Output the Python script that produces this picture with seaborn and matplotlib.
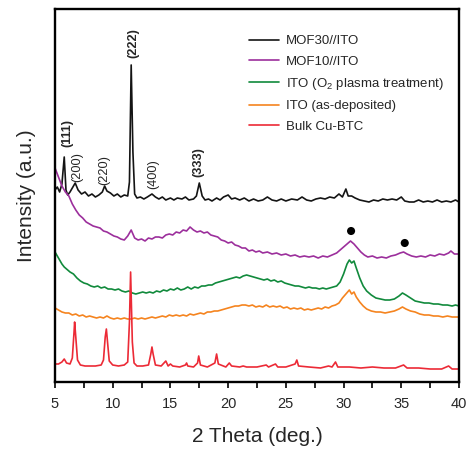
import matplotlib
matplotlib.use("Agg")
import matplotlib.pyplot as plt
from matplotlib.ticker import MultipleLocator
import seaborn as sns

# XRD patterns, intensities in arbitrary (offset) units
mof30_x = [5.0, 5.2, 5.4, 5.6, 5.8, 5.95, 6.1, 6.3, 6.6, 6.75, 7.0, 7.3, 7.6, 7.9, 8.2, 8.5, 8.8, 9.1, 9.3, 9.5,
           9.8, 10.1, 10.4, 10.7, 11.0, 11.3, 11.45, 11.6, 11.75, 11.9, 12.1, 12.4, 12.7, 13.0, 13.4, 13.7, 14.0,
           14.3, 14.6, 15.0, 15.3, 15.6, 16.0, 16.3, 16.6, 17.0, 17.25, 17.5, 17.75, 18.0, 18.3, 18.6, 19.0, 19.3,
           19.6, 20.0, 20.3, 20.6, 21.0, 21.4, 21.8, 22.2, 22.6, 23.0, 23.4, 23.8, 24.2, 24.6, 25.0, 25.5, 26.0,
           26.4, 26.8, 27.2, 27.6, 28.0, 28.4, 28.8, 29.2, 29.6, 29.9, 30.2, 30.4, 30.7, 31.0, 31.4, 31.8, 32.2,
           32.6, 33.0, 33.4, 33.8, 34.2, 34.6, 35.0, 35.3, 35.7, 36.1, 36.5, 36.9, 37.3, 37.7, 38.1, 38.5, 38.9,
           39.3, 39.7, 40.0]
mof30_y = [192, 195, 190, 198, 225, 192, 187, 190, 196, 199, 192, 188, 190, 186, 188, 185, 187, 190, 196, 191,
           189, 186, 188, 185, 187, 186, 200, 317, 230, 188, 184, 185, 183, 185, 188, 185, 183,
           185, 182, 184, 182, 184, 183, 185, 182, 183, 186, 199, 186, 182, 183, 181, 184, 182,
           185, 187, 183, 184, 182, 184, 181, 183, 181, 182, 185, 182, 181, 183, 181, 183, 182,
           185, 182, 181, 183, 184, 183, 185, 184, 188, 185, 193, 186, 186, 184, 182, 181, 180,
           182, 181, 183, 182, 183, 182, 185, 181, 180, 180, 182, 180, 181, 180, 182, 180, 181,
           180, 182, 180]

mof10_x = [5.0, 5.3, 5.6, 5.9, 6.2, 6.5, 6.8, 7.1, 7.4, 7.7, 8.0, 8.3, 8.6, 8.9, 9.2, 9.5, 9.8, 10.1, 10.4, 10.7,
           11.0, 11.3, 11.6, 11.9, 12.2, 12.5, 12.8, 13.1, 13.4, 13.7, 14.0, 14.3, 14.6, 14.9, 15.2, 15.5, 15.8,
           16.1, 16.4, 16.7, 17.0, 17.3, 17.6, 17.9, 18.2, 18.5, 18.8, 19.1, 19.4, 19.7, 20.0, 20.3, 20.6, 20.9,
           21.2, 21.5, 21.8, 22.1, 22.4, 22.7, 23.0, 23.4, 23.8, 24.2, 24.6, 25.0, 25.4, 25.8, 26.2, 26.6, 27.0,
           27.4, 27.8, 28.2, 28.6, 29.0, 29.4, 29.7, 30.0, 30.3, 30.6, 30.9, 31.2, 31.5, 31.8, 32.1, 32.5, 32.9,
           33.3, 33.7, 34.1, 34.5, 34.9, 35.2, 35.5, 35.9, 36.3, 36.7, 37.1, 37.5, 37.9, 38.3, 38.7, 39.1, 39.3,
           39.6, 40.0]
mof10_y = [214, 205, 196, 190, 186, 178, 172, 167, 164, 160, 158, 156, 155, 154, 151, 150, 148, 146, 145, 143,
           142, 146, 152, 144, 142, 143, 141, 144, 143, 145, 145, 144, 147, 148, 147, 150, 149,
           152, 151, 155, 152, 150, 151, 149, 150, 147, 146, 145, 142, 141, 139, 140, 137, 136,
           134, 134, 131, 132, 130, 131, 129, 130, 128, 129, 127, 128, 126, 127, 125, 126, 125,
           126, 124, 126, 125, 127, 129, 132, 135, 138, 141, 138, 134, 130, 127, 125, 126, 124,
           125, 124, 126, 127, 129, 130, 128, 126, 125, 126, 125, 127, 126, 128, 127, 129, 131,
           128, 128]

ito_o2_x = [5.0, 5.2, 5.4, 5.6, 5.8, 6.0, 6.3, 6.6, 6.9, 7.2, 7.5, 7.8, 8.1, 8.4, 8.7, 9.0, 9.3, 9.6, 9.9, 10.2,
            10.5, 10.8, 11.1, 11.4, 11.7, 12.0, 12.3, 12.6, 12.9, 13.2, 13.5, 13.8, 14.1, 14.4, 14.7, 15.0, 15.3,
            15.6, 15.9, 16.2, 16.5, 16.8, 17.1, 17.4, 17.7, 18.0, 18.3, 18.6, 18.9, 19.2, 19.5, 19.8, 20.1, 20.4,
            20.7, 21.0, 21.3, 21.6, 21.9, 22.2, 22.5, 22.8, 23.1, 23.4, 23.7, 24.0, 24.3, 24.6, 24.9, 25.2, 25.5,
            25.8, 26.1, 26.4, 26.7, 27.0, 27.3, 27.6, 27.9, 28.2, 28.5, 28.8, 29.1, 29.4, 29.7, 30.0, 30.3, 30.5,
            30.7, 30.9, 31.1, 31.4, 31.7, 32.0, 32.4, 32.8, 33.2, 33.6, 34.0, 34.4, 34.8, 35.1, 35.4, 35.8, 36.2,
            36.6, 37.0, 37.4, 37.8, 38.2, 38.6, 39.0, 39.4, 39.7, 40.0]
ito_o2_y = [130, 126, 122, 118, 115, 113, 110, 108, 104, 101, 99, 98, 96, 95, 96, 94, 95, 93, 93, 92,
            93, 91, 90, 91, 89, 88, 89, 90, 89, 90, 89, 91, 90, 92, 91, 93, 92,
            94, 92, 93, 95, 93, 95, 94, 96, 96, 97, 97, 99, 100, 101, 102, 103, 104,
            105, 104, 106, 107, 106, 105, 104, 103, 102, 103, 101, 102, 100, 101, 99, 98, 97,
            96, 96, 95, 94, 95, 94, 94, 93, 94, 93, 94, 95, 96, 100, 108, 118, 122,
            119, 121, 114, 104, 96, 91, 87, 84, 83, 82, 82, 83, 86, 89, 87, 84, 81,
            80, 79, 79, 78, 78, 77, 77, 76, 77, 76]

ito_x = [5.0, 5.3, 5.6, 5.9, 6.2, 6.5, 6.8, 7.1, 7.4, 7.7, 8.0, 8.3, 8.6, 8.9, 9.2, 9.5, 9.8, 10.1, 10.4, 10.7,
         11.0, 11.3, 11.6, 11.9, 12.2, 12.5, 12.8, 13.1, 13.4, 13.7, 14.0, 14.3, 14.6, 14.9, 15.2, 15.5, 15.8,
         16.1, 16.4, 16.7, 17.0, 17.3, 17.6, 17.9, 18.2, 18.5, 18.8, 19.1, 19.4, 19.7, 20.0, 20.3, 20.6, 20.9,
         21.2, 21.5, 21.8, 22.1, 22.4, 22.7, 23.0, 23.3, 23.6, 23.9, 24.2, 24.5, 24.8, 25.1, 25.4, 25.7, 26.0,
         26.3, 26.6, 26.9, 27.2, 27.5, 27.8, 28.1, 28.4, 28.7, 29.0, 29.3, 29.6, 29.9, 30.2, 30.5, 30.7, 30.9,
         31.1, 31.4, 31.7, 32.0, 32.4, 32.8, 33.2, 33.6, 34.0, 34.4, 34.8, 35.1, 35.4, 35.8, 36.2, 36.6, 37.0,
         37.4, 37.8, 38.2, 38.6, 39.0, 39.4, 39.7, 40.0]
ito_y = [74, 72, 70, 69, 69, 67, 68, 66, 67, 65, 66, 65, 64, 65, 64, 66, 64, 63, 64, 63,
         64, 63, 63, 64, 63, 64, 63, 64, 65, 64, 65, 66, 65, 67, 66, 67, 66,
         67, 66, 68, 67, 68, 69, 68, 70, 70, 71, 71, 72, 73, 74, 75, 76, 76,
         77, 77, 76, 77, 75, 76, 75, 77, 75, 76, 75, 76, 74, 75, 73, 74, 73,
         74, 72, 73, 72, 73, 74, 73, 75, 74, 76, 77, 79, 84, 88, 92, 88, 90,
         85, 80, 76, 73, 71, 70, 70, 69, 70, 71, 73, 75, 73, 71, 70, 68, 67,
         67, 66, 66, 65, 66, 65, 65, 65]

bulk_x = [5.0, 5.3, 5.6, 5.8, 6.0, 6.3, 6.5, 6.65, 6.7, 6.8, 6.95, 7.2, 7.6, 8.0, 8.5, 9.0, 9.2, 9.35, 9.45, 9.55,
          9.7, 10.0, 10.5, 11.0, 11.3, 11.45, 11.55, 11.7, 11.85, 12.1, 12.6, 13.1, 13.3, 13.4, 13.5, 13.7, 14.2,
          14.6, 14.8, 15.0, 15.2, 15.8, 16.3, 16.4, 16.5, 17.0, 17.35, 17.45, 17.6, 18.2, 18.85, 19.0, 19.15,
          19.8, 20.1, 20.3, 21.0, 21.3, 21.6, 22.5, 23.3, 23.5, 24.1, 24.3, 25.0, 25.8, 25.95, 26.1, 27.0, 28.0,
          28.7, 29.0, 29.3, 29.5, 30.5, 31.5, 32.5, 33.5, 34.5, 35.2, 35.5, 36.5, 37.5, 38.5, 39.1, 39.4, 40.0]
bulk_y = [18, 18, 20, 23, 19, 18, 24, 50, 60, 45, 22, 17, 16, 16, 16, 17, 22, 45, 53, 40,
          21, 17, 16, 17, 20, 60, 110, 40, 19, 16, 16, 17, 28, 35, 28, 17, 16,
          21, 16, 18, 16, 15, 17, 19, 16, 15, 19, 26, 17, 15, 19, 28, 18,
          15, 19, 16, 15, 16, 15, 15, 17, 15, 18, 15, 15, 18, 22, 16, 15, 14,
          16, 15, 20, 15, 15, 14, 15, 14, 14, 17, 14, 14, 13, 13, 16, 13, 13]

dot_x = [30.65, 35.3]
dot_y = [151, 139]

peak_labels = ["(111)", "(200)", "(220)", "(222)", "(400)", "(333)"]
peak_x = [6.05, 6.9, 9.3, 11.75, 13.55, 17.45]
peak_y = [235, 200, 197, 324, 193, 205]
peak_bold = [True, False, False, True, False, True]

series = [
    ("MOF30//ITO", mof30_x, mof30_y, "#141414"),
    ("MOF10//ITO", mof10_x, mof10_y, "#9c2f9c"),
    ("ITO (O$_2$ plasma treatment)", ito_o2_x, ito_o2_y, "#118a3c"),
    ("ITO (as-deposited)", ito_x, ito_y, "#f5841f"),
    ("Bulk Cu-BTC", bulk_x, bulk_y, "#ec2a36"),
]

sns.set_style("ticks")
plt.rcParams["font.family"] = ["Liberation Sans", "DejaVu Sans"]
plt.rcParams["mathtext.default"] = "regular"

fig = plt.figure(figsize=(4.70, 4.49), dpi=100)
ax = fig.add_axes([55 / 470, 67 / 449, 404 / 470, 373 / 449])

for name, xs, ys, col in series:
    sns.lineplot(x=xs, y=ys, color=col, label=name, linewidth=1.2, ax=ax, sort=False, estimator=None)

sns.scatterplot(x=dot_x, y=dot_y, color="black", s=34, edgecolor="none", ax=ax, legend=False)

for lab, px, py, bold in zip(peak_labels, peak_x, peak_y, peak_bold):
    ax.text(px, py, lab, rotation=90, ha="center", va="bottom", fontsize=9.2,
            fontweight="bold" if bold else "normal")

ax.set_xlim(5, 40)
ax.set_ylim(0, 373)
ax.set_yticks([])
ax.xaxis.set_major_locator(MultipleLocator(5))
ax.xaxis.set_minor_locator(MultipleLocator(2.5))
ax.tick_params(axis="x", which="both", direction="out", length=4, width=1.4, labelsize=10.5, pad=7)
for sp in ax.spines.values():
    sp.set_visible(True)
    sp.set_linewidth(1.7)
    sp.set_color("black")
    sp.set_zorder(5)

ax.set_xlabel("2 Theta (deg.)", fontsize=15, labelpad=11)
ax.set_ylabel("Intensity (a.u.)", fontsize=15, labelpad=14)

leg = ax.legend(loc="upper left", bbox_to_anchor=(0.479, 0.93), frameon=False, fontsize=9.5,
                handlelength=2.3, handletextpad=0.55, labelspacing=0.62, borderpad=0, borderaxespad=0)
for line in leg.get_lines():
    line.set_linewidth(1.2)

fig.savefig("out.png", dpi=100)
